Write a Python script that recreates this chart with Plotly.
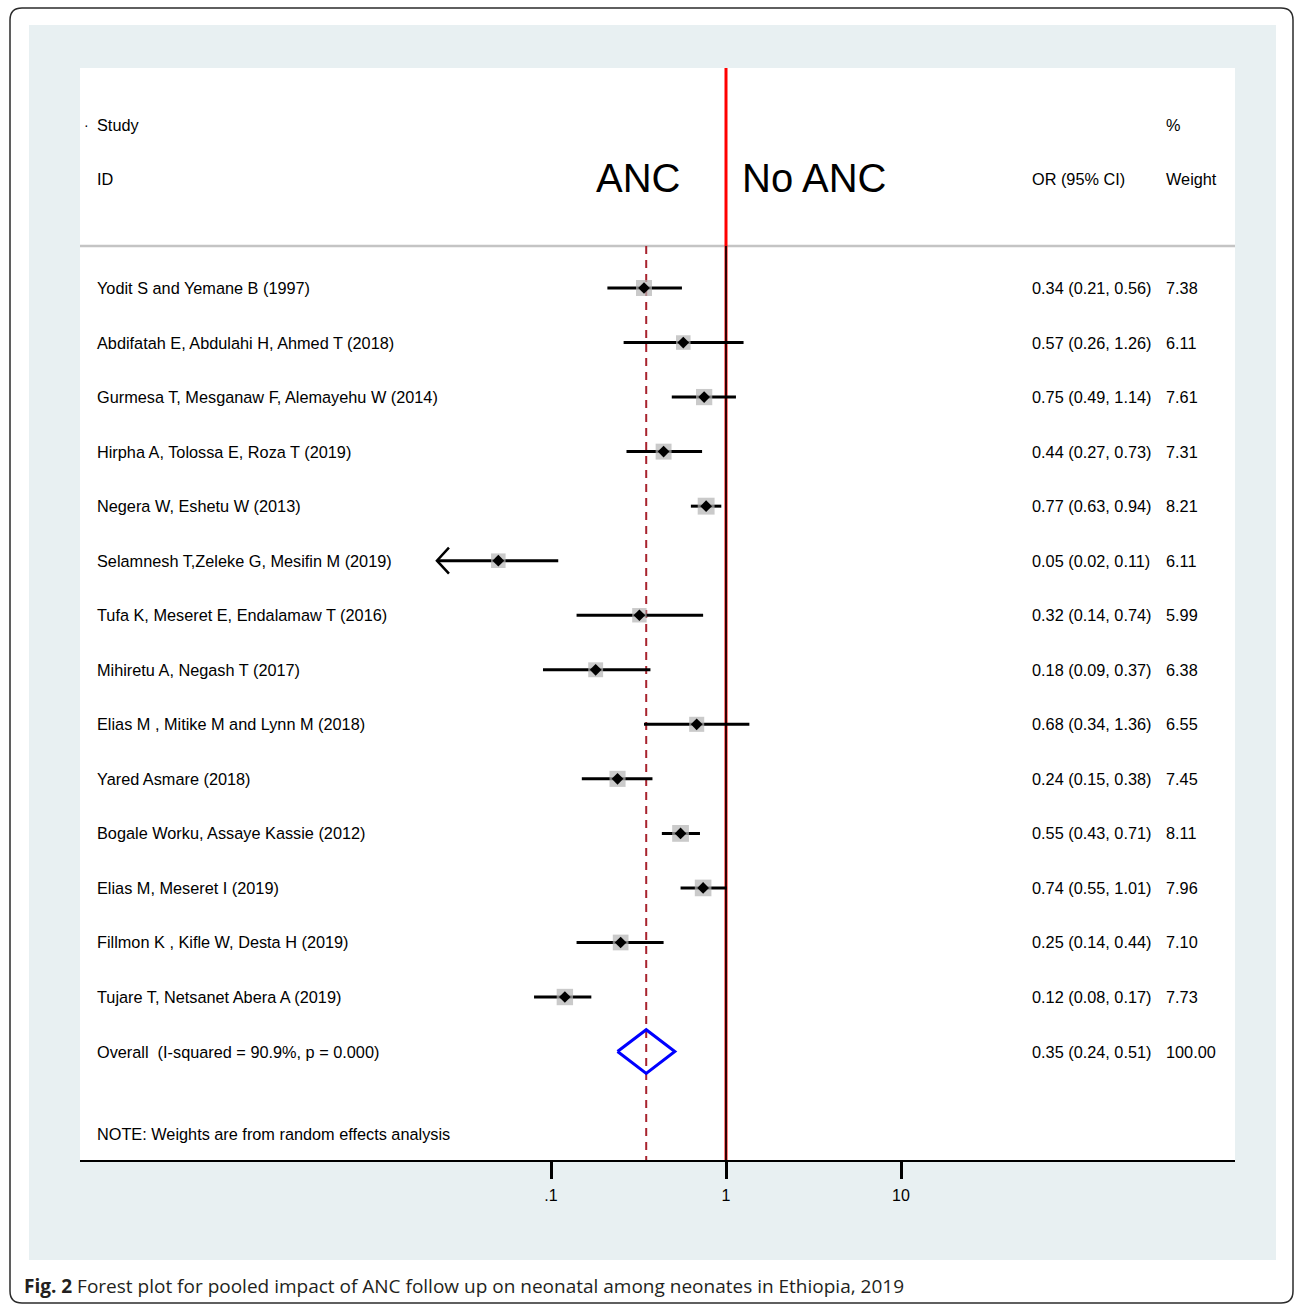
import numpy as np
import plotly.graph_objects as go

# ---- data -------------------------------------------------------------
studies = [
    "Yodit S and Yemane B (1997)",
    "Abdifatah E, Abdulahi H, Ahmed T (2018)",
    "Gurmesa T, Mesganaw F, Alemayehu W (2014)",
    "Hirpha A, Tolossa E, Roza T (2019)",
    "Negera W, Eshetu W (2013)",
    "Selamnesh T,Zeleke G, Mesifin M (2019)",
    "Tufa K, Meseret E, Endalamaw T (2016)",
    "Mihiretu A, Negash T (2017)",
    "Elias M , Mitike M and Lynn M (2018)",
    "Yared Asmare (2018)",
    "Bogale Worku, Assaye Kassie (2012)",
    "Elias M, Meseret I (2019)",
    "Fillmon K , Kifle W, Desta H (2019)",
    "Tujare T, Netsanet Abera A (2019)",
]
odds_ratio = [0.34, 0.57, 0.75, 0.44, 0.77, 0.05, 0.32, 0.18, 0.68, 0.24, 0.55, 0.74, 0.25, 0.12]
ci_low = [0.21, 0.26, 0.49, 0.27, 0.63, 0.02, 0.14, 0.09, 0.34, 0.15, 0.43, 0.55, 0.14, 0.08]
ci_high = [0.56, 1.26, 1.14, 0.73, 0.94, 0.11, 0.74, 0.37, 1.36, 0.38, 0.71, 1.01, 0.44, 0.17]
weights = [7.38, 6.11, 7.61, 7.31, 8.21, 6.11, 5.99, 6.38, 6.55, 7.45, 8.11, 7.96, 7.10, 7.73]

overall_label = "Overall  (I-squared = 90.9%, p = 0.000)"
overall_or = 0.35
overall_low = 0.24
overall_high = 0.51
overall_weight = 100.00

tick_values = [0.1, 1, 10]
tick_labels = [".1", "1", "10"]
arrow_floor = 0.0223   # CIs reaching below this are cut off with an arrow

# ---- page geometry (pixels) -------------------------------------------
W, H = 1295, 1305
PL, PR, PT, PB = 80, 1235, 68, 1160          # white plotting panel
X_ONE, DECADE = 726, 175                      # pixel of OR = 1, pixels per decade
ROW0, ROW_STEP = 288, 54.54                   # first study row, row spacing
HEAD_LINE = 246

def fx(p):
    return p / W

def fy(p):
    return 1 - p / H

def row_of(p):
    return (p - ROW0) / ROW_STEP

FONT = "Liberation Sans, Arial, Helvetica, sans-serif"
TXT = 16.3
n = len(studies)
rows = list(range(n))
overall_row = n
line_top = row_of(HEAD_LINE)
panel_bottom = row_of(PB)
panel_top = row_of(PT)

fig = go.Figure()

# pooled estimate (dashed) and line of no effect
fig.add_trace(go.Scatter(
    x=[overall_or, overall_or], y=[line_top, panel_bottom], mode="lines",
    line=dict(color="#a8232e", width=2, dash="8px,6px"), hoverinfo="skip"))
fig.add_trace(go.Scatter(
    x=[1, 1], y=[panel_top, panel_bottom], mode="lines",
    line=dict(color="#ff0000", width=3), hoverinfo="skip"))
fig.add_trace(go.Scatter(
    x=[1, 1], y=[line_top, panel_bottom], mode="lines",
    line=dict(color="#000000", width=1.6), hoverinfo="skip"))

# confidence intervals; intervals running off the scale end in an open arrow
head_dx = 12 / DECADE      # arrowhead length, in decades
head_dy = 13 / ROW_STEP    # arrowhead half-height, in rows
for r, lo, hi in zip(rows, ci_low, ci_high):
    lo_draw = max(lo, arrow_floor)
    fig.add_trace(go.Scatter(
        x=[lo_draw, hi], y=[r, r], mode="lines",
        line=dict(color="black", width=3), hoverinfo="skip"))
    if lo < arrow_floor:
        back = arrow_floor * 10 ** head_dx
        fig.add_trace(go.Scatter(
            x=[back, arrow_floor, back], y=[r - head_dy, r, r + head_dy],
            mode="lines", line=dict(color="black", width=2.5),
            hoverinfo="skip"))

# weight boxes and point estimates
box_sizes = [16 * np.sqrt(w / weights[0]) for w in weights]
fig.add_trace(go.Scatter(
    x=odds_ratio, y=rows, mode="markers",
    marker=dict(symbol="square", size=box_sizes, color="#b4b4b4",
                line=dict(width=0)), hoverinfo="skip"))
fig.add_trace(go.Scatter(
    x=odds_ratio, y=rows, mode="markers",
    marker=dict(symbol="diamond", size=9, color="black", line=dict(width=0)),
    hoverinfo="skip"))

# pooled diamond
half_h = 0.4
fig.add_trace(go.Scatter(
    x=[overall_low, overall_or, overall_high, overall_or, overall_low],
    y=[overall_row, overall_row - half_h, overall_row, overall_row + half_h, overall_row],
    mode="lines", line=dict(color="#0000ff", width=3), hoverinfo="skip"))

annotations = []

def txt(x, y, s, size=TXT, xanchor="left", yref="paper", color="black", family=FONT):
    annotations.append(dict(
        x=x, y=y, xref="paper", yref=yref, text=s, showarrow=False,
        xanchor=xanchor, yanchor="middle", borderpad=0,
        font=dict(family=family, size=size, color=color)))

# header
txt(fx(83), fy(125), "·", size=14)
txt(fx(96), fy(125), "Study")
txt(fx(96), fy(179), "ID")
txt(fx(1165), fy(125), "%")
txt(fx(1031), fy(179), "OR (95% CI)")
txt(fx(1165), fy(179), "Weight")
txt(fx(638), fy(178), "ANC", size=40, xanchor="center")
txt(fx(814), fy(178), "No ANC", size=40, xanchor="center")

# study rows
for r, name, o, lo, hi, w in zip(rows, studies, odds_ratio, ci_low, ci_high, weights):
    txt(fx(96), r, name, yref="y")
    txt(fx(1031), r, f"{o:.2f} ({lo:.2f}, {hi:.2f})", yref="y")
    txt(fx(1165), r, f"{w:.2f}", yref="y")

txt(fx(96), overall_row, overall_label, yref="y")
txt(fx(1031), overall_row,
    f"{overall_or:.2f} ({overall_low:.2f}, {overall_high:.2f})", yref="y")
txt(fx(1165), overall_row, f"{overall_weight:.2f}", yref="y")

txt(fx(96), fy(1134), "NOTE: Weights are from random effects analysis")

# caption
txt(fx(23), fy(1286),
    "<b>Fig. 2</b> Forest plot for pooled impact of ANC follow up on neonatal "
    "among neonates in Ethiopia, 2019",
    size=19, color="#231f20", family="Open Sans, Noto Sans, sans-serif")

# ---- background frames --------------------------------------------------
r_c = 12
x0, y0, x1, y1 = 10, 8, 1293, 1303
frame_path = (
    f"M {fx(x0 + r_c)} {fy(y0)} L {fx(x1 - r_c)} {fy(y0)} "
    f"Q {fx(x1)} {fy(y0)} {fx(x1)} {fy(y0 + r_c)} "
    f"L {fx(x1)} {fy(y1 - r_c)} Q {fx(x1)} {fy(y1)} {fx(x1 - r_c)} {fy(y1)} "
    f"L {fx(x0 + r_c)} {fy(y1)} Q {fx(x0)} {fy(y1)} {fx(x0)} {fy(y1 - r_c)} "
    f"L {fx(x0)} {fy(y0 + r_c)} Q {fx(x0)} {fy(y0)} {fx(x0 + r_c)} {fy(y0)} Z"
)
shapes = [
    dict(type="path", path=frame_path, xref="paper", yref="paper",
         line=dict(color="#2b2b2b", width=1.5), fillcolor="white", layer="below"),
    dict(type="rect", xref="paper", yref="paper",
         x0=fx(29), x1=fx(1276), y0=fy(1260), y1=fy(25),
         line=dict(width=0), fillcolor="#e8f0f2", layer="below"),
    dict(type="rect", xref="paper", yref="paper",
         x0=fx(PL), x1=fx(PR), y0=fy(PB), y1=fy(PT),
         line=dict(width=0), fillcolor="white", layer="below"),
    dict(type="line", xref="paper", yref="paper",
         x0=fx(PL), x1=fx(PR), y0=fy(HEAD_LINE), y1=fy(HEAD_LINE),
         line=dict(color="#c4c4c4", width=2.5), layer="below"),
]

fig.update_layout(
    width=W, height=H,
    margin=dict(l=0, r=0, t=0, b=0),
    paper_bgcolor="white", plot_bgcolor="rgba(0,0,0,0)",
    showlegend=False,
    shapes=shapes, annotations=annotations,
    xaxis=dict(
        type="log", domain=[fx(PL), fx(PR)],
        range=[(PL - X_ONE) / DECADE, (PR - X_ONE) / DECADE],
        tickvals=tick_values, ticktext=tick_labels,
        ticks="outside", ticklen=17, tickwidth=2.5, tickcolor="black",
        ticklabelstandoff=3,
        showline=True, linecolor="black", linewidth=2,
        showgrid=False, zeroline=False,
        tickfont=dict(family=FONT, size=16, color="black"),
    ),
    yaxis=dict(
        domain=[fy(PB), fy(PT)],
        range=[panel_bottom, panel_top],
        showticklabels=False, showgrid=False, zeroline=False, showline=False,
        ticks="",
    ),
)

fig.write_html("out.html")
